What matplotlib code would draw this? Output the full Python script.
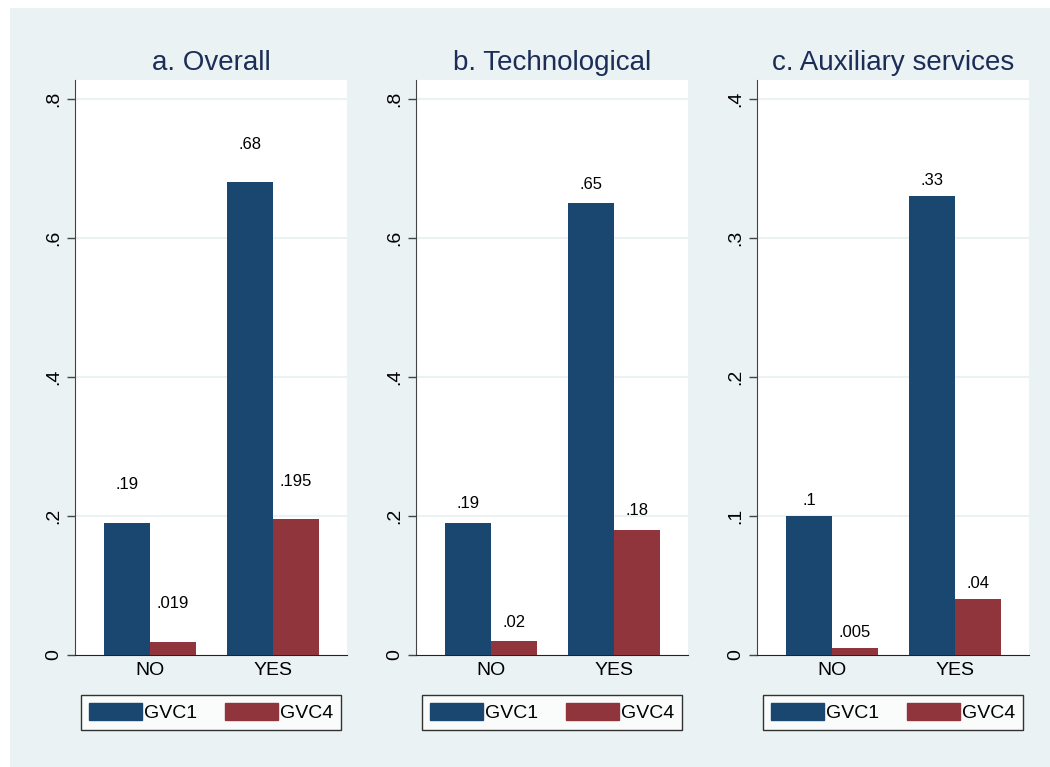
import matplotlib.pyplot as plt
from matplotlib.patches import Rectangle, Patch

plt.rcParams['font.family'] = ['Liberation Sans', 'DejaVu Sans']

categories = ["NO", "YES"]
series_names = ["GVC1", "GVC4"]

titles = ["a. Overall", "b. Technological", "c. Auxiliary services"]

overall_gvc1 = [0.19, 0.68]
overall_gvc4 = [0.019, 0.195]
overall_labels_1 = [".19", ".68"]
overall_labels_4 = [".019", ".195"]

tech_gvc1 = [0.19, 0.65]
tech_gvc4 = [0.02, 0.18]
tech_labels_1 = [".19", ".65"]
tech_labels_4 = [".02", ".18"]

aux_gvc1 = [0.1, 0.33]
aux_gvc4 = [0.005, 0.04]
aux_labels_1 = [".1", ".33"]
aux_labels_4 = [".005", ".04"]

yticks_ab = [0, 0.2, 0.4, 0.6, 0.8]
yticklabels_ab = ["0", ".2", ".4", ".6", ".8"]
yticks_c = [0, 0.1, 0.2, 0.3, 0.4]
yticklabels_c = ["0", ".1", ".2", ".3", ".4"]

C1 = "#1A476F"
C4 = "#90353B"
BG = "#EAF2F3"
TITLE_C = "#1C2D57"

W, H = 1050, 767
fig = plt.figure(figsize=(W / 100, H / 100), dpi=100)
fig.patch.set_facecolor("white")
fig.add_artist(Rectangle((10 / W, 0), 1 - 10 / W, 1 - 8 / H,
                         transform=fig.transFigure, facecolor=BG,
                         edgecolor="none", zorder=-10))

panels = [
    (titles[0], overall_gvc1, overall_gvc4, overall_labels_1, overall_labels_4,
     yticks_ab, yticklabels_ab, 0.827, 75, 38),
    (titles[1], tech_gvc1, tech_gvc4, tech_labels_1, tech_labels_4,
     yticks_ab, yticklabels_ab, 0.827, 416, 19),
    (titles[2], aux_gvc1, aux_gvc4, aux_labels_1, aux_labels_4,
     yticks_c, yticklabels_c, 0.4137, 757, 16),
]

px_w = 272
top_px, bot_px = 80, 655
bw = 0.374

for (title, v1, v4, l1, l4, yt, ytl, ytop, left_px, off_px) in panels:
    ax = fig.add_axes([left_px / W, (H - bot_px) / H, px_w / W,
                       (bot_px - top_px) / H])
    ax.set_facecolor("white")
    xs = list(range(len(categories)))
    ax.bar([x - bw / 2 for x in xs], v1, width=bw, color=C1, zorder=3)
    ax.bar([x + bw / 2 for x in xs], v4, width=bw, color=C4, zorder=3)
    off_pt = off_px * 72 / 100
    for x, v, s in zip(xs, v1, l1):
        ax.annotate(s, (x - bw / 2, v), xytext=(0, off_pt),
                    textcoords="offset points", ha="center", va="center",
                    fontsize=12, color="black")
    for x, v, s in zip(xs, v4, l4):
        ax.annotate(s, (x + bw / 2, v), xytext=(0, off_pt),
                    textcoords="offset points", ha="center", va="center",
                    fontsize=12, color="black")
    ax.set_xlim(-0.61, 1.6)
    ax.set_ylim(0, ytop)
    ax.set_xticks(xs)
    ax.set_xticklabels(categories, fontsize=14)
    ax.tick_params(axis="x", length=0, pad=5)
    ax.set_yticks(yt)
    ax.set_yticklabels(ytl, rotation=90, va="center", fontsize=14)
    ax.tick_params(axis="y", length=6, width=1, color="#444444", pad=3)
    for y in yt[1:]:
        ax.axhline(y, color=BG, linewidth=1.5, zorder=1)
    for s in ["top", "right"]:
        ax.spines[s].set_visible(False)
    ax.spines["left"].set_color("#444444")
    ax.spines["bottom"].set_color("#222222")
    ax.set_title(title, fontsize=20, color=TITLE_C, pad=7)

    handles = [Patch(facecolor=C1, edgecolor=C1),
               Patch(facecolor=C4, edgecolor=C4)]
    cx = (left_px + 7 + 258 / 2) / W
    cy = (H - 712.5) / H
    leg = fig.legend(handles, series_names, loc="center",
                     bbox_to_anchor=(cx, cy), ncol=2, fontsize=14,
                     frameon=True, fancybox=False, edgecolor="black",
                     handlelength=2.75, handleheight=1.0, handletextpad=0.1,
                     columnspacing=1.4, borderpad=0.4, borderaxespad=0)
    leg.get_frame().set_linewidth(1.0)
    leg.get_frame().set_facecolor("white")

fig.savefig("out.png", dpi=100, facecolor=fig.get_facecolor())
